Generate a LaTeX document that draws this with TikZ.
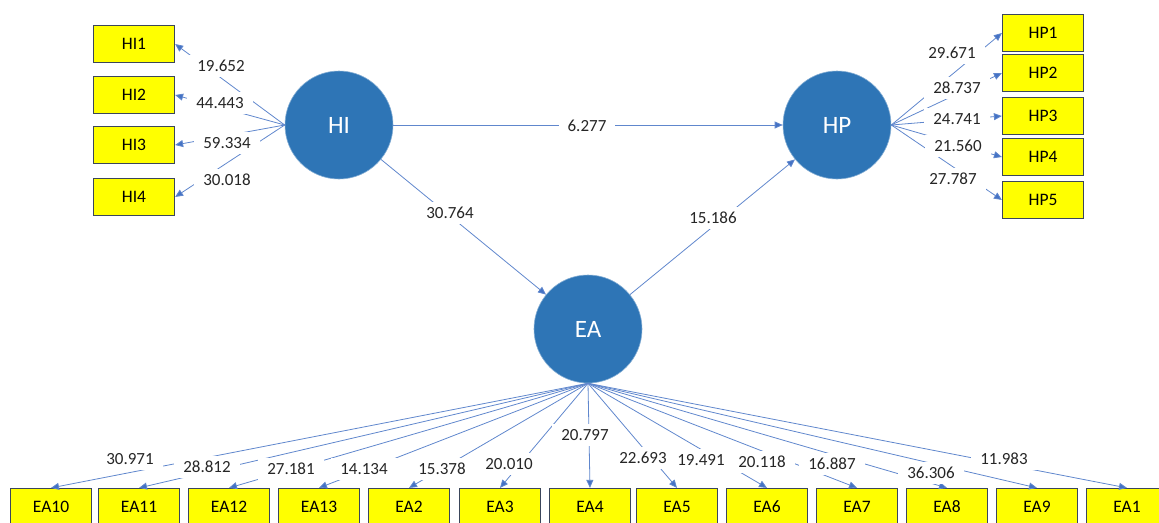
\documentclass[tikz,border=0pt]{standalone}
\usepackage{fontspec}
\setmainfont{Carlito}
\usetikzlibrary{arrows.meta, positioning}
\definecolor{latent}{RGB}{46,117,182}
\definecolor{pathblue}{RGB}{68,114,196}
\definecolor{boxedge}{RGB}{59,70,90}
\definecolor{indicator}{RGB}{255,255,0}
\tikzset{
  construct/.style={circle, fill=latent, draw=latent!60!white, line width=0.6pt,
    minimum size=108pt, inner sep=0pt, text=white,
    font=\fontsize{25}{28}\selectfont},
  item/.style={draw=boxedge, line width=1.2pt, fill=indicator,
    minimum width=81pt, minimum height=37pt, inner sep=0pt,
    font=\fontsize{17.5}{20}\selectfont},
  load/.style={pathblue!85!white, line width=0.8pt,
    -{Triangle[length=8pt,width=7pt,fill=pathblue]}},
  tval/.style={fill=white, inner xsep=9pt, inner ysep=5pt, text=black!85,
    font=\fontsize{17}{19}\selectfont}
}
\def\hilist{HI1/44/19.652/221/66, HI2/95/44.443/220/103,
  HI3/145/59.334/227/143, HI4/197/30.018/227/180}
\def\hplist{HP1/33/29.671/952/53, HP2/73/28.737/957/88,
  HP3/116/24.741/957/119, HP4/157/21.560/958/146, HP5/200/27.787/953/179}
\def\ealist{EA10/51/30.971/130/459, EA11/139/28.812/207/467,
  EA12/229/27.181/291/469, EA13/319/14.134/364/469,
  EA2/409/15.378/442/469, EA3/500/20.010/509/464,
  EA4/590/20.797/585/435, EA5/677/22.693/643/458,
  EA6/767/19.491/701/460, EA7/857/20.118/762/462,
  EA8/947/16.887/832/464, EA9/1037/36.306/931/473,
  EA1/1127/11.983/1004/459}
\begin{document}
\begin{tikzpicture}[x=1pt, y=-1pt]
  \useasboundingbox (0,0) rectangle (1159,522);
  % -- constructs --
  \node[construct] (HI) at (339,125) {HI};
  \node[construct] (HP) at (837,125) {HP};
  \node[construct] (EA) at (588,329) {EA};
  % -- structural paths --
  \draw[load] (HI.east) -- (HP.west);
  \draw[load] (HI) -- (EA);
  \draw[load] (EA) -- (HP);
  % -- indicators and loadings --
  \foreach \name/\y/\tv/\lx/\ly in \hilist {
    \node[item] (\name) at (134,\y) {\name};
    \draw[load] (HI.west) -- (\name.east);
  }
  \foreach \name/\y/\tv/\lx/\ly in \hplist {
    \node[item] (\name) at (1043,\y) {\name};
    \draw[load] (HP.east) -- (\name.west);
  }
  \foreach \name/\x/\tv/\lx/\ly in \ealist {
    \node[item] (\name) at (\x,507) {\name};
    \draw[load] (EA.south) -- (\name.north);
  }
  % -- t values --
  \node[tval] (tHIHP) at (587,126) {6.277};
  \node[tval] (tHIEA) at (450,213) {30.764};
  \node[tval] (tEAHP) at (713,218) {15.186};
  \foreach \name/\y/\tv/\lx/\ly in \hilist
    \node[tval] (t\name) at (\lx,\ly) {\tv};
  \foreach \name/\y/\tv/\lx/\ly in \hplist
    \node[tval] (t\name) at (\lx,\ly) {\tv};
  \foreach \name/\x/\tv/\lx/\ly in \ealist
    \node[tval] (t\name) at (\lx,\ly) {\tv};
\end{tikzpicture}
\end{document}
